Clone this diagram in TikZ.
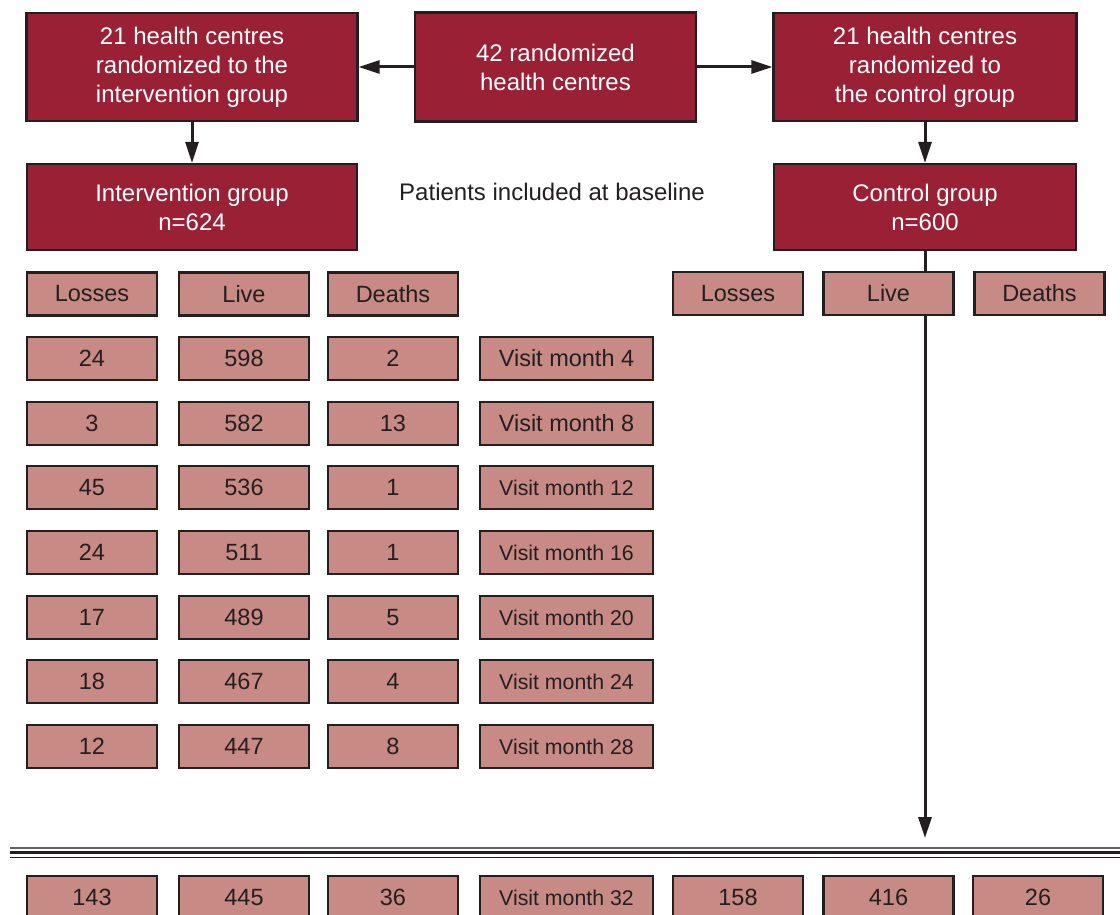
\documentclass[tikz,border=0pt]{standalone}
\usepackage{fontspec}
\setmainfont{Liberation Sans}
\usetikzlibrary{arrows.meta}
\definecolor{dred}{HTML}{9A2035}
\definecolor{boxpink}{HTML}{C88A84}
\definecolor{ink}{HTML}{231F20}
\tikzset{
  bigbox/.style={draw=ink, fill=dred, text=white, line width=2.2pt, inner sep=0pt,
    align=center, font=\fontsize{24}{29}\selectfont},
  smallbox/.style={draw=ink, fill=boxpink, text=ink, line width=2.2pt, inner sep=0pt,
    minimum width=130, minimum height=43, font=\fontsize{23.5}{26}\selectfont},
  visitbox/.style={smallbox, minimum width=173},
  smallvisit/.style={visitbox, font=\fontsize{21.3}{24}\selectfont},
  connector/.style={draw=ink, line width=3pt, -{Stealth[length=21pt, width=13pt, inset=0pt]}},
}
\begin{document}
\begin{tikzpicture}[x=1pt,y=-1pt]
\useasboundingbox (0,0) rectangle (1120,915);
% top boxes
\node[bigbox, minimum width=331, minimum height=108] (tl) at (192,67)
  {21 health centres\\randomized to the\\intervention group};
\node[bigbox, minimum width=281, minimum height=109] (tm) at (555.5,67)
  {42 randomized\\health centres};
\node[bigbox, minimum width=303, minimum height=108] (tr) at (925,67)
  {21 health centres\\randomized to\\the control group};
\node[bigbox, minimum width=330, minimum height=86] (ig) at (192,207)
  {Intervention group\\n=624};
\node[bigbox, minimum width=302, minimum height=86] (cg) at (925,207)
  {Control group\\n=600};
\node[text=ink, font=\fontsize{24}{26}\selectfont] (pat) at (552,192)
  {Patients included at baseline};
% arrows
\path[connector] (tm.west) -- (tl.east);
\path[connector] (tm.east) -- (tr.west);
\path[connector] (tl.south) -- (ig.north);
\path[connector] (tr.south) -- (cg.north);
\coordinate (endc) at (925,838);
\path[connector] (cg.south) -- (endc);
% left header
\node[smallbox] (lL) at (92,294) {Losses};
\node[smallbox] (lV) at (244,294) {Live};
\node[smallbox] (lD) at (393,294) {Deaths};
% right header
\node[smallbox] (rL) at (738,293.5) {Losses};
\node[smallbox] (rV) at (888.5,293.5) {Live};
\node[smallbox] (rD) at (1039.5,293.5) {Deaths};
% rows
\node[smallbox] (a1) at (92,358.5) {24};
\node[smallbox] (b1) at (244,358.5) {598};
\node[smallbox] (c1) at (393,358.5) {2};
\node[visitbox] (v1) at (566.5,358.5) {Visit month 4};
\node[smallbox] (a2) at (92,423.5) {3};
\node[smallbox] (b2) at (244,423.5) {582};
\node[smallbox] (c2) at (393,423.5) {13};
\node[visitbox] (v2) at (566.5,423.5) {Visit month 8};
\node[smallbox] (a3) at (92,487.5) {45};
\node[smallbox] (b3) at (244,487.5) {536};
\node[smallbox] (c3) at (393,487.5) {1};
\node[smallvisit] (v3) at (566.5,487.5) {Visit month 12};
\node[smallbox] (a4) at (92,552.5) {24};
\node[smallbox] (b4) at (244,552.5) {511};
\node[smallbox] (c4) at (393,552.5) {1};
\node[smallvisit] (v4) at (566.5,552.5) {Visit month 16};
\node[smallbox] (a5) at (92,617.5) {17};
\node[smallbox] (b5) at (244,617.5) {489};
\node[smallbox] (c5) at (393,617.5) {5};
\node[smallvisit] (v5) at (566.5,617.5) {Visit month 20};
\node[smallbox] (a6) at (92,681.5) {18};
\node[smallbox] (b6) at (244,681.5) {467};
\node[smallbox] (c6) at (393,681.5) {4};
\node[smallvisit] (v6) at (566.5,681.5) {Visit month 24};
\node[smallbox] (a7) at (92,746.5) {12};
\node[smallbox] (b7) at (244,746.5) {447};
\node[smallbox] (c7) at (393,746.5) {8};
\node[smallvisit] (v7) at (566.5,746.5) {Visit month 28};
% separator
\draw[ink!70, line width=1.3pt] (10,848) -- (1120,848);
\draw[ink, line width=3pt] (10,852.5) -- (1120,852.5);
\draw[ink, line width=1.8pt] (10,857.5) -- (1120,857.5);
% bottom row
\node[smallbox] (z1) at (92,897.5) {143};
\node[smallbox] (z2) at (244,897.5) {445};
\node[smallbox] (z3) at (393,897.5) {36};
\node[smallvisit] (z4) at (566.5,897.5) {Visit month 32};
\node[smallbox] (z5) at (738,897.5) {158};
\node[smallbox] (z6) at (888.5,897.5) {416};
\node[smallbox] (z7) at (1038,897.5) {26};
\end{tikzpicture}
\end{document}
